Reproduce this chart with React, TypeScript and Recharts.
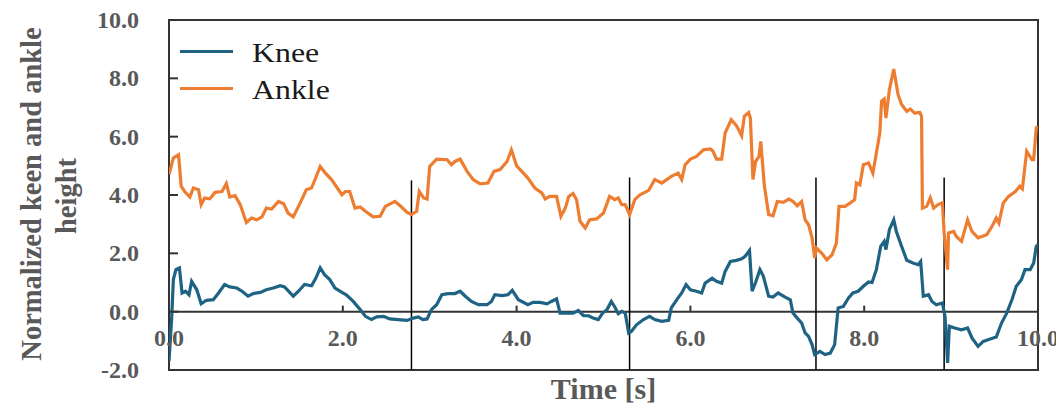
import { LineChart, Line, XAxis, YAxis, ReferenceLine, ReferenceArea, Legend } from "recharts";

const X_MIN = 0;
const X_MAX = 10;
const Y_MIN = -2;
const Y_MAX = 10;
const xTicks = [0, 2, 4, 6, 8, 10];
const yTicks = [-2, 0, 2, 4, 6, 8, 10];
const seriesNames = ["Knee", "Ankle"];

const KNEE_COLOR = "#1f6384";
const ANKLE_COLOR = "#ed7d31";
const TEXT_GRAY = "#595959";
const SERIF = "Liberation Serif";

const kneeTime = [
  0.0, 0.03, 0.05, 0.08, 0.12, 0.15, 0.19, 0.23, 0.26, 0.32, 0.37, 0.43, 0.51, 0.57, 0.64, 0.7, 0.78, 0.84,
  0.91, 0.97, 1.05, 1.12, 1.2, 1.28, 1.33, 1.43, 1.49, 1.56, 1.64, 1.69, 1.74, 1.79, 1.85, 1.91, 1.99, 2.04,
  2.12, 2.2, 2.26, 2.33, 2.39, 2.47, 2.54, 2.64, 2.74, 2.81, 2.87, 2.92, 2.97, 3.02, 3.08, 3.14, 3.21, 3.29,
  3.35, 3.41, 3.48, 3.56, 3.66, 3.71, 3.75, 3.83, 3.9, 3.95, 4.02, 4.06, 4.13, 4.19, 4.27, 4.35, 4.4, 4.46,
  4.5, 4.58, 4.65, 4.71, 4.77, 4.83, 4.88, 4.94, 4.99, 5.04, 5.09, 5.13, 5.17, 5.21, 5.25, 5.29, 5.32, 5.38,
  5.46, 5.53, 5.59, 5.67, 5.75, 5.78, 5.85, 5.9, 5.95, 6.0, 6.07, 6.13, 6.17, 6.25, 6.3, 6.36, 6.4, 6.46,
  6.53, 6.59, 6.63, 6.68, 6.71, 6.75, 6.8, 6.84, 6.9, 6.95, 7.01, 7.09, 7.15, 7.18, 7.23, 7.28, 7.32, 7.36,
  7.4, 7.43, 7.49, 7.55, 7.61, 7.66, 7.7, 7.76, 7.82, 7.87, 7.93, 7.99, 8.05, 8.09, 8.14, 8.19, 8.23, 8.25,
  8.29, 8.34, 8.37, 8.43, 8.49, 8.56, 8.62, 8.65, 8.68, 8.74, 8.78, 8.83, 8.9, 8.93, 8.96, 8.98, 9.04, 9.12,
  9.19, 9.24, 9.31, 9.37, 9.45, 9.52, 9.58, 9.64, 9.7, 9.75, 9.81, 9.85, 9.91, 9.95, 9.98, 10.0,
];
const kneeValue = [
  -1.7, -0.27, 1.1, 1.44, 1.5, 0.64, 0.7, 0.58, 1.04, 0.75, 0.27, 0.39, 0.41, 0.64, 0.93, 0.85, 0.81, 0.7,
  0.53, 0.62, 0.66, 0.75, 0.81, 0.89, 0.85, 0.53, 0.7, 0.93, 0.89, 1.15, 1.5, 1.27, 1.1, 0.81, 0.66, 0.58,
  0.35, 0.07, -0.16, -0.27, -0.18, -0.16, -0.25, -0.27, -0.3, -0.22, -0.18, -0.27, -0.25, 0.07, 0.24, 0.58, 0.62, 0.62,
  0.7, 0.53, 0.35, 0.24, 0.24, 0.35, 0.58, 0.55, 0.58, 0.73, 0.41, 0.35, 0.24, 0.32, 0.32, 0.27, 0.35, 0.44,
  -0.05, -0.05, -0.05, 0.04, -0.14, -0.14, -0.22, -0.27, -0.05, 0.07, 0.35, 0.16, -0.07, 0.01, -0.05, -0.73, -0.68, -0.45,
  -0.27, -0.16, -0.27, -0.33, -0.3, 0.13, 0.44, 0.64, 0.93, 0.75, 0.7, 0.64, 0.98, 1.15, 1.04, 0.98, 1.38, 1.72,
  1.76, 1.81, 1.9, 2.1, 0.7, 1.0, 1.44, 1.21, 0.53, 0.5, 0.64, 0.5, 0.41, -0.05, -0.22, -0.39, -0.73, -0.85,
  -1.13, -1.47, -1.36, -1.47, -1.42, -1.13, 0.13, 0.18, 0.47, 0.64, 0.7, 0.87, 1.02, 1.0, 1.44, 2.24, 2.41, 2.13,
  2.81, 3.15, 2.75, 2.24, 1.76, 1.67, 1.61, 1.72, 0.53, 0.58, 0.35, 0.24, 0.3, -0.16, -1.76, -0.5, -0.56, -0.62,
  -0.56, -0.9, -1.19, -1.02, -0.94, -0.87, -0.39, -0.05, 0.41, 0.87, 1.1, 1.44, 1.44, 1.67, 2.24, 2.3,
];

const ankleTime = [
  0.0, 0.05, 0.11, 0.14, 0.18, 0.24, 0.28, 0.34, 0.37, 0.41, 0.47, 0.53, 0.61, 0.66, 0.7, 0.76, 0.82, 0.89,
  0.95, 1.01, 1.07, 1.12, 1.18, 1.26, 1.32, 1.37, 1.43, 1.51, 1.58, 1.64, 1.68, 1.74, 1.8, 1.87, 1.99, 2.03,
  2.08, 2.14, 2.2, 2.26, 2.35, 2.43, 2.49, 2.6, 2.66, 2.74, 2.79, 2.85, 2.88, 2.93, 2.97, 3.0, 3.08, 3.2,
  3.25, 3.29, 3.35, 3.43, 3.5, 3.58, 3.67, 3.74, 3.81, 3.89, 3.94, 4.0, 4.06, 4.13, 4.21, 4.29, 4.33, 4.38,
  4.46, 4.51, 4.56, 4.6, 4.65, 4.69, 4.73, 4.79, 4.84, 4.92, 5.0, 5.07, 5.13, 5.17, 5.21, 5.25, 5.3, 5.36,
  5.42, 5.52, 5.59, 5.67, 5.78, 5.86, 5.9, 5.94, 6.0, 6.07, 6.15, 6.23, 6.26, 6.3, 6.36, 6.4, 6.47, 6.53,
  6.59, 6.62, 6.67, 6.69, 6.72, 6.75, 6.79, 6.81, 6.85, 6.9, 6.95, 7.0, 7.07, 7.13, 7.18, 7.23, 7.28, 7.32,
  7.36, 7.4, 7.43, 7.45, 7.51, 7.57, 7.63, 7.68, 7.71, 7.78, 7.84, 7.89, 7.91, 7.95, 7.99, 8.05, 8.1, 8.14,
  8.18, 8.2, 8.23, 8.25, 8.29, 8.34, 8.39, 8.43, 8.49, 8.53, 8.58, 8.64, 8.66, 8.67, 8.72, 8.76, 8.8, 8.85,
  8.9, 8.92, 8.96, 8.97, 9.03, 9.06, 9.12, 9.19, 9.24, 9.31, 9.41, 9.47, 9.52, 9.55, 9.6, 9.66, 9.74, 9.79,
  9.82, 9.87, 9.93, 9.95, 9.98, 10.0,
];
const ankleValue = [
  4.7, 5.27, 5.38, 4.3, 4.12, 3.93, 4.24, 4.18, 3.67, 3.9, 3.87, 4.09, 4.12, 4.39, 3.93, 3.98, 3.67, 3.06,
  3.21, 3.15, 3.25, 3.55, 3.52, 3.78, 3.7, 3.38, 3.25, 3.73, 4.18, 4.24, 4.53, 4.98, 4.75, 4.53, 4.01, 4.12,
  4.12, 3.55, 3.59, 3.44, 3.25, 3.27, 3.61, 3.78, 3.63, 3.4, 3.33, 3.44, 4.12, 3.9, 3.86, 4.98, 5.23, 5.21,
  5.04, 5.15, 5.23, 4.81, 4.53, 4.38, 4.41, 4.81, 4.87, 5.15, 5.55, 5.0, 4.81, 4.58, 4.24, 4.07, 3.86, 3.95,
  3.95, 3.27, 3.55, 3.95, 4.05, 3.84, 3.1, 2.87, 3.15, 3.18, 3.38, 3.95, 3.84, 3.9, 3.67, 3.67, 3.33, 3.84,
  4.01, 4.16, 4.53, 4.41, 4.64, 4.75, 4.53, 5.04, 5.23, 5.32, 5.55, 5.58, 5.5, 5.23, 5.23, 6.13, 6.58, 6.38,
  6.03, 6.7, 6.83, 6.64, 4.53, 5.15, 5.32, 5.84, 4.35, 3.33, 3.29, 3.78, 3.75, 3.86, 3.78, 3.63, 3.78, 3.15,
  2.98, 2.53, 1.84, 2.18, 2.01, 1.78, 1.95, 2.35, 3.61, 3.61, 3.73, 3.84, 4.41, 4.35, 5.04, 5.1, 4.75, 5.44,
  6.13, 7.21, 7.29, 6.64, 7.61, 8.32, 7.44, 7.1, 6.87, 6.95, 6.81, 6.83, 6.7, 3.55, 3.61, 3.9, 3.55, 3.67,
  3.73, 2.7, 1.44, 2.7, 2.75, 2.58, 2.41, 3.15, 2.75, 2.53, 2.64, 2.92, 3.21, 3.04, 3.73, 3.95, 4.12, 4.3,
  4.21, 5.5, 5.21, 5.21, 6.3, 6.35,
];

// black markers separating the gait segments (x position, top end)
const markerTimes = [2.79, 5.3, 7.445, 8.92];
const markerTops = [4.5, 4.6, 4.6, 4.6];

const kneeData = kneeTime.map((t, i) => ({ t, v: kneeValue[i] }));
const ankleData = ankleTime.map((t, i) => ({ t, v: ankleValue[i] }));

const PLOT_H = 350;
const zeroDrop = (PLOT_H * (0 - Y_MIN)) / (Y_MAX - Y_MIN);

function XTick(props: any) {
  const { x, y, payload } = props;
  const zeroY = y - zeroDrop;
  const v = payload.value;
  return (
    <g>
      {v > X_MIN && v < X_MAX && (
        <line x1={x} x2={x} y1={zeroY} y2={zeroY - 6} stroke="#333" strokeWidth={2} />
      )}
      <text
        x={x}
        y={zeroY + 26}
        textAnchor="middle"
        dominantBaseline="central"
        fill={TEXT_GRAY}
        fontFamily={SERIF}
        fontWeight="bold"
        fontSize={24}
      >
        {v.toFixed(1)}
      </text>
    </g>
  );
}

function YTick(props: any) {
  const { x, y, payload } = props;
  const v = payload.value;
  const axisX = x + 30;
  return (
    <g>
      {v > Y_MIN && v < Y_MAX && (
        <line x1={axisX} x2={axisX + 9} y1={y} y2={y} stroke="#333" strokeWidth={2} />
      )}
      <text
        x={x}
        y={y}
        textAnchor="end"
        dominantBaseline="central"
        fill={TEXT_GRAY}
        fontFamily={SERIF}
        fontWeight="bold"
        fontSize={24}
      >
        {v.toFixed(1)}
      </text>
    </g>
  );
}

function YTitle() {
  const style = { fill: TEXT_GRAY, fontFamily: SERIF, fontWeight: "bold" as const, fontSize: 28.5 };
  return (
    <g>
      <text x={31} y={194} transform="rotate(-90 31 194)" textAnchor="middle" dominantBaseline="central" {...style}>
        Normalized keen and ankle
      </text>
      <text x={66} y={196} transform="rotate(-90 66 196)" textAnchor="middle" dominantBaseline="central" {...style}>
        height
      </text>
    </g>
  );
}

function LegendBox(props: any) {
  const items = [...(props.payload || [])].sort(
    (a: any, b: any) => seriesNames.indexOf(a.value) - seriesNames.indexOf(b.value)
  );
  return (
    <div>
      {items.map((p: any) => (
        <div key={p.value} style={{ display: "flex", alignItems: "center", height: 37 }}>
          <span style={{ display: "inline-block", width: 53, height: 3, background: p.color, marginRight: 19 }} />
          <span
            style={{
              display: "inline-block",
              fontFamily: SERIF,
              fontSize: 27,
              color: "#1a1a1a",
              lineHeight: "37px",
              position: "relative",
              top: 2,
              transform: "scaleX(1.18)",
              transformOrigin: "left center",
            }}
          >
            {p.value}
          </span>
        </div>
      ))}
    </div>
  );
}

export default function App() {
  return (
    <div style={{ position: "absolute", left: 0, top: 0, background: "#fff" }}>
      <LineChart width={1056} height={409} margin={{ top: 20, right: 18, bottom: 0, left: 0 }}>
        <XAxis
          type="number"
          dataKey="t"
          domain={[X_MIN, X_MAX]}
          ticks={xTicks}
          allowDataOverflow
          axisLine={false}
          tickLine={false}
          tickSize={0}
          tickMargin={0}
          height={39}
          tick={<XTick />}
          label={{
            value: "Time [s]",
            position: "insideBottom",
            offset: 10,
            fill: TEXT_GRAY,
            fontFamily: SERIF,
            fontWeight: "bold",
            fontSize: 30,
          }}
        />
        <YAxis
          type="number"
          domain={[Y_MIN, Y_MAX]}
          ticks={yTicks}
          allowDataOverflow
          axisLine={false}
          tickLine={false}
          tickSize={0}
          tickMargin={30}
          width={169}
          tick={<YTick />}
          label={<YTitle />}
        />
        <Legend
          layout="vertical"
          align="center"
          verticalAlign="middle"
          wrapperStyle={{ top: 33, left: 180, width: "auto", height: "auto" }}
          content={<LegendBox />}
        />
        <ReferenceLine y={0} stroke="#333" strokeWidth={2} />
        {markerTimes.map((mt, i) => (
          <ReferenceLine
            key={i}
            segment={[
              { x: mt, y: Y_MIN },
              { x: mt, y: markerTops[i] },
            ]}
            stroke="#000"
            strokeWidth={1.5}
          />
        ))}
        <Line
          data={kneeData}
          dataKey="v"
          name="Knee"
          type="linear"
          stroke={KNEE_COLOR}
          strokeWidth={3.2}
          dot={false}
          isAnimationActive={false}
        />
        <Line
          data={ankleData}
          dataKey="v"
          name="Ankle"
          type="linear"
          stroke={ANKLE_COLOR}
          strokeWidth={3.2}
          dot={false}
          isAnimationActive={false}
        />
        <ReferenceArea x1={X_MIN} x2={X_MAX} y1={Y_MIN} y2={Y_MAX} fill="none" stroke="#333" strokeWidth={2} />
      </LineChart>
    </div>
  );
}
